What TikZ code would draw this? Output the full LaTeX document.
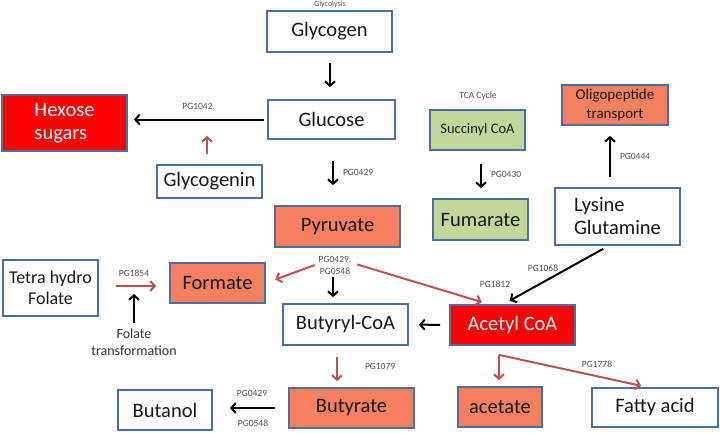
\documentclass[tikz,border=0pt]{standalone}
\usepackage{fontspec}
\setmainfont{Carlito}
\usepackage{tikz}
\usetikzlibrary{arrows.meta}
\definecolor{boxline}{HTML}{4A6FA5}
\definecolor{salmon}{HTML}{F5805F}
\definecolor{olive}{HTML}{C4D79B}
\definecolor{darkred}{HTML}{C0504D}
\definecolor{pggray}{HTML}{505050}
\tikzset{
  >={Straight Barb[length=4.5pt,width=10pt]},
  box/.style={draw=boxline, line width=1.8pt, fill=white, inner sep=2pt, align=center, text=black!90,
    font=\fontsize{20.5}{23}\selectfont},
  smallbox/.style={box, font=\fontsize{15}{19}\selectfont},
  hot/.style={fill=red, text=white},
  warm/.style={fill=salmon},
  green/.style={fill=olive},
  pg/.style={font=\fontsize{9.5}{11}\selectfont, text=pggray, inner sep=1pt, align=center},
  blk/.style={line width=2pt, ->},
  rd/.style={line width=2pt, ->, draw=darkred}
}

\begin{document}
\begin{tikzpicture}[x=1pt, y=-1pt]
\useasboundingbox (0,0) rectangle (720,432);

\node[box, minimum width=125pt, minimum height=41pt] (glycogen) at (329.5,31.5) {Glycogen};
\node[pg, font=\fontsize{8}{9}\selectfont] (glycolysis) at (330,4) {Glycolysis};
\node[box, minimum width=127pt, minimum height=39pt] (glucose) at (331.5,119.5) {Glucose};
\node[box, hot, align=left, minimum width=125pt, minimum height=56pt] (hexose) at (64.5,123) {Hexose\\sugars};
\node[box, minimum width=105pt, minimum height=33pt] (glycogenin) at (209.5,181.5) {Glycogenin};
\node[box, warm, minimum width=125pt, minimum height=41pt] (pyruvate) at (337.5,226.5) {Pyruvate};
\node[pg] (tca) at (478,96) {TCA Cycle};
\node[smallbox, green, font=\fontsize{14.5}{17}\selectfont, minimum width=95pt, minimum height=40pt] (succinyl) at (477.5,130) {Succinyl CoA};
\node[box, green, minimum width=95pt, minimum height=41pt] (fumarate) at (480.5,219.5) {Fumarate};
\node[smallbox, warm, minimum width=106pt, minimum height=40pt] (oligo) at (615,105) {Oligopeptide\\transport};
\node[box, align=left, minimum width=125pt, minimum height=57pt] (lysine) at (617.5,216.5) {Lysine\\Glutamine};
\node[box, font=\fontsize{18}{21}\selectfont, minimum width=95pt, minimum height=56pt] (thf) at (50.5,288) {Tetra hydro\\Folate};
\node[box, warm, minimum width=95pt, minimum height=40pt] (formate) at (217.5,283) {Formate};
\node[pg, text=black!80, font=\fontsize{14}{16.5}\selectfont, inner sep=0pt] (folate) at (134,342) {Folate\\transformation};
\node[pg, font=\fontsize{9.5}{12}\selectfont] (pgpyr) at (335,265) {PG0429,\\PG0548};
\node[box, minimum width=125pt, minimum height=41pt] (butyryl) at (345.5,324.5) {Butyryl-CoA};
\node[box, hot, minimum width=125pt, minimum height=40pt] (acetyl) at (512.5,325) {Acetyl CoA};
\node[box, warm, minimum width=125pt, minimum height=40pt] (butyrate) at (351.5,408) {Butyrate};
\node[box, minimum width=94pt, minimum height=40pt] (butanol) at (165,410) {Butanol};
\node[box, warm, minimum width=84pt, minimum height=40pt] (acetate) at (500,407) {acetate};
\node[box, minimum width=126pt, minimum height=39pt] (fatty) at (655,407.5) {Fatty acid};
\coordinate (split) at ([xshift=-13.5pt, yshift=-9pt]acetyl.south);
\coordinate (thfout) at ([yshift=2pt]thf.east);

\draw[blk, shorten <=10pt, shorten >=12pt] ([xshift=0.5pt]glycogen.south) -- ([xshift=-1.5pt]glucose.north);
\draw[blk, shorten <=3pt, shorten >=6pt] (glucose.west) -- (hexose.east |- glucose.west) node[pg, midway, above=8pt] (pg1042) {PG1042};
\draw[rd, shorten <=10pt, shorten >=-4pt] ([xshift=-2.5pt]glycogenin.north) -- ([xshift=-2.5pt]glycogenin.north |- glucose.south);
\draw[blk, shorten <=21pt, shorten >=20pt] ([xshift=1.5pt]glucose.south) -- ([xshift=-4.5pt]pyruvate.north) node[pg, midway, right=8pt] (pg0429) {PG0429};
\draw[blk, shorten <=13pt, shorten >=10pt] ([xshift=3.5pt]succinyl.south) -- ([xshift=0.5pt]fumarate.north) node[pg, midway, right=8pt] (pg0430) {PG0430};
\draw[blk, shorten <=10pt, shorten >=10pt] ([xshift=-7.5pt]lysine.north) -- ([xshift=-5pt]oligo.south) node[pg, midway, right=8pt] (pg0444) {PG0444};
\draw[rd, shorten <=17pt, shorten >=13pt] (thfout) -- (formate.west |- thfout) node[pg, midway, above=7pt] (pg1854) {PG1854};
\draw[blk, shorten <=6pt, shorten >=6pt] (folate.north) -- (folate.north |- thf.east);
\draw[rd, shorten <=3pt, shorten >=10pt] ([yshift=1pt]pgpyr.west) -- (formate.east);
\draw[blk, shorten <=2pt, shorten >=6pt] ([xshift=-2pt]pgpyr.south) -- ([xshift=-2pt]pgpyr.south |- butyryl.north);
\draw[rd, shorten <=5pt, shorten >=7pt] ([yshift=2pt]pgpyr.east) -- ([xshift=-24pt]acetyl.north);
\node[pg] (pg1812) at (495,284) {PG1812};
\draw[blk, shorten <=6pt, shorten >=7pt] ([xshift=-9pt]lysine.south) -- ([xshift=-9pt]acetyl.north);
\node[pg] (pg1068) at (543,268) {PG1068};
\draw[blk, shorten <=9pt, shorten >=10pt] (acetyl.west) -- (butyryl.east);
\draw[rd, shorten <=11pt, shorten >=6pt] ([xshift=-8.5pt]butyryl.south) -- ([xshift=-14.5pt]butyrate.north) node[pg, midway, right=26pt] (pg1079) {PG1079};
\draw[blk, shorten <=13pt, shorten >=17pt] (butyrate.west) -- (butanol.east |- butyrate.west);
\node[pg] (pg0429b) at (252,393) {PG0429};
\node[pg] (pg0548b) at (253,423) {PG0548};
\draw[rd, shorten >=6pt] (split) -- (split |- acetate.north);
\draw[rd, shorten >=6pt] (split) -- ([xshift=-8pt]fatty.north);
\node[pg] (pg1778) at (597,364) {PG1778};
\end{tikzpicture}
\end{document}
